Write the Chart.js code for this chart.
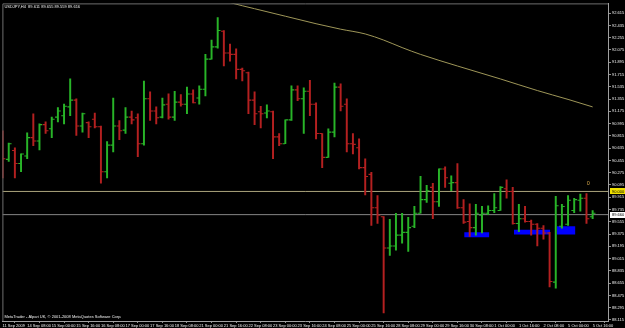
<!DOCTYPE html>
<html>
<head>
<meta charset="utf-8">
<script src="https://cdn.jsdelivr.net/npm/chart.js@4.4.0/dist/chart.umd.min.js"></script>
<style>
  html, body { margin: 0; padding: 0; background: #000; }
  #wrap { width: 625px; height: 328px; position: relative; }
</style>
</head>
<body>
<div id="wrap"><canvas id="chart"></canvas></div>
<script>
// USDJPY H4 bars, 11 Sep 16:00 .. 5 Oct 16:00 (one label every 4 bars)
var timeLabels = ['11 Sep 2009', '14 Sep 08:00', '15 Sep 00:00', '15 Sep 16:00', '16 Sep 08:00',
  '17 Sep 00:00', '17 Sep 16:00', '18 Sep 08:00', '21 Sep 00:00', '21 Sep 16:00', '22 Sep 08:00',
  '23 Sep 00:00', '23 Sep 16:00', '24 Sep 08:00', '25 Sep 00:00', '25 Sep 16:00', '28 Sep 08:00',
  '29 Sep 00:00', '29 Sep 16:00', '30 Sep 08:00', '1 Oct 00:00', '1 Oct 16:00', '2 Oct 08:00',
  '5 Oct 00:00', '5 Oct 16:00'];

var openPrices = [
  90.74, 90.47, 90.60, 90.41, 90.52, 90.79, 90.74, 90.98, 90.92, 91.09,
  91.11, 91.24, 91.34, 90.96, 91.01, 91.06, 90.95, 90.29, 90.68, 90.96,
  90.90, 91.09, 91.08, 90.70, 91.36, 91.18, 91.09, 91.28, 91.09, 91.31,
  91.28, 91.43, 91.37, 91.50, 91.94, 92.12, 92.35, 92.03, 92.01, 91.79,
  91.74, 91.34, 91.17, 91.15, 91.17, 90.80, 90.70, 91.05, 91.49, 91.36,
  91.47, 91.28, 90.85, 90.50, 90.87, 91.53, 91.28, 90.70, 90.64, 90.35,
  90.25, 89.76, 89.63, 89.17, 89.20, 89.36, 89.40, 89.49, 89.68, 89.88,
  90.06, 89.85, 90.33, 90.12, 90.13, 89.76, 89.56, 89.47, 89.65, 89.68,
  89.72, 89.72, 90.04, 90.00, 89.53, 89.60, 89.56, 89.52, 89.46, 89.39,
  88.67, 89.49, 89.52, 89.72, 89.87, 89.90, 89.63];
var highPrices = [
  90.89, 90.71, 90.64, 90.55, 90.86, 91.14, 90.99, 91.02, 91.09, 91.23,
  91.28, 91.65, 91.36, 91.15, 91.02, 91.15, 90.96, 90.73, 91.37, 91.04,
  91.23, 91.18, 91.14, 91.62, 91.46, 91.24, 91.37, 91.43, 91.47, 91.42,
  91.53, 91.49, 91.55, 92.01, 92.22, 92.55, 92.36, 92.16, 92.09, 91.81,
  91.75, 91.46, 91.25, 91.27, 91.18, 90.85, 91.05, 91.55, 91.55, 91.52,
  91.63, 91.30, 90.85, 90.92, 91.59, 91.58, 91.36, 90.85, 90.77, 90.48,
  90.28, 89.94, 89.63, 89.59, 89.68, 89.68, 89.62, 89.78, 90.22, 90.09,
  90.12, 90.33, 90.36, 90.23, 90.41, 89.88, 89.82, 89.81, 89.78, 89.79,
  89.97, 90.07, 90.17, 90.06, 89.81, 89.78, 89.58, 89.53, 89.50, 89.40,
  89.93, 89.81, 89.94, 89.90, 89.96, 89.97, 89.72];
var lowPrices = [
  90.20, 90.44, 90.20, 90.29, 90.48, 90.67, 90.61, 90.85, 90.79, 91.02,
  90.99, 91.11, 90.82, 90.87, 90.79, 90.93, 90.12, 90.20, 90.58, 90.76,
  90.85, 90.99, 90.51, 90.68, 91.04, 90.99, 91.08, 91.06, 91.04, 91.25,
  91.14, 91.30, 91.28, 91.40, 91.94, 92.10, 91.84, 91.91, 91.65, 91.62,
  91.14, 90.98, 90.93, 91.08, 90.48, 90.67, 90.70, 91.04, 91.33, 90.85,
  91.11, 90.77, 90.35, 90.50, 90.80, 91.18, 90.58, 90.55, 90.33, 89.95,
  89.50, 89.53, 88.22, 89.06, 89.14, 89.24, 89.12, 89.47, 89.68, 89.84,
  89.60, 89.78, 90.06, 90.01, 89.75, 89.53, 89.34, 89.36, 89.39, 89.66,
  89.69, 89.72, 89.90, 89.52, 89.41, 89.55, 89.36, 89.20, 89.30, 88.60,
  88.58, 89.46, 89.50, 89.69, 89.71, 89.53, 89.60];
var closePrices = [
  90.48, 90.70, 90.41, 90.55, 90.79, 90.74, 90.98, 90.89, 91.06, 91.18,
  91.25, 91.34, 90.96, 91.14, 90.95, 90.95, 90.29, 90.68, 90.96, 90.89,
  91.09, 91.05, 90.70, 91.36, 91.18, 91.08, 91.27, 91.09, 91.31, 91.28,
  91.43, 91.30, 91.50, 91.94, 92.12, 92.36, 92.03, 92.01, 91.79, 91.77,
  91.34, 91.14, 91.14, 91.18, 90.80, 90.70, 91.05, 91.49, 91.36, 91.47,
  91.28, 90.85, 90.50, 90.87, 91.53, 91.25, 90.70, 90.69, 90.35, 90.22,
  89.76, 89.65, 89.17, 89.20, 89.36, 89.40, 89.47, 89.68, 89.88, 90.01,
  89.85, 90.33, 90.20, 90.13, 89.76, 89.55, 89.47, 89.68, 89.68, 89.72,
  89.76, 90.06, 90.00, 89.53, 89.60, 89.56, 89.52, 89.46, 89.39, 88.68,
  89.79, 89.78, 89.87, 89.88, 89.90, 89.60, 89.68];

// slow moving average, read at some bars (it leaves the top of the window on the left)
var maIndex = [33, 37, 41, 46, 51, 55, 59, 62, 65, 68, 74, 81, 87, 92, 96];
var maValues = [92.88, 92.77, 92.68, 92.57, 92.46, 92.38, 92.31, 92.22, 92.11, 92.01, 91.84, 91.65, 91.48, 91.35, 91.24];

var yTickValues = [92.615, 92.435, 92.255, 92.075, 91.895, 91.715, 91.535, 91.355, 91.175,
  90.995, 90.815, 90.635, 90.455, 90.275, 90.095, 89.915, 89.735, 89.555, 89.375, 89.195,
  89.015, 88.835, 88.655, 88.475, 88.295, 88.115];

var levelPrice = 90.000;
var lastPrice = 89.660;

// blue rectangles (bar index from/to, price top/bottom)
var boxStart = [75.1, 83.2, 90.2];
var boxEnd = [79.2, 89.1, 93.2];
var boxTop = [89.40, 89.44, 89.49];
var boxBottom = [89.33, 89.37, 89.37];

var markerText = '0';
var markerIndex = 95.3;
var markerPrice = 90.11;

var headerText = 'USDJPY,H4  89.611 89.655 89.559 89.616';
var footerText = 'MetaTrader - Alpari UK, \u00a9 2001-2008 MetaQuotes Software Corp.';

var X_MIN = -0.03, X_MAX = 98.5;
var Y_MIN = 88.10, Y_MAX = 92.758;
var UP = '#28b428';
var DOWN = '#b42020';
var TEXT = '#f0f0f0';

Chart.defaults.font.family = '"Liberation Sans", Arial, sans-serif';
Chart.defaults.font.size = 4;

var idx = openPrices.map(function(p, i) { return i; });
var barColors = idx.map(function(i) {
  return closePrices[i] >= openPrices[i] ? UP : DOWN;
});

var datasets = [];

for (var k = 0; k < boxStart.length; k++) {
  datasets.push({
    type: 'line',
    data: [{x: boxStart[k], y: boxTop[k]}, {x: boxEnd[k], y: boxTop[k]}],
    borderColor: 'rgba(0,0,0,0)', borderWidth: 1, pointRadius: 0, fill: false, order: 10
  });
  datasets.push({
    type: 'line',
    data: [{x: boxStart[k], y: boxBottom[k]}, {x: boxEnd[k], y: boxBottom[k]}],
    borderColor: 'rgba(0,0,0,0)', borderWidth: 1, pointRadius: 0,
    fill: '-1', backgroundColor: '#0000ff', order: 10
  });
}

datasets.push({
  type: 'line',
  data: [{x: X_MIN, y: levelPrice}, {x: X_MAX, y: levelPrice}],
  borderColor: '#aaa47c', borderWidth: 1, pointRadius: 0, order: 6
});
datasets.push({
  type: 'line',
  data: [{x: X_MIN, y: lastPrice}, {x: X_MAX, y: lastPrice}],
  borderColor: '#858585', borderWidth: 1, pointRadius: 0, order: 6
});
datasets.push({
  type: 'line',
  data: maIndex.map(function(v, j) { return {x: v, y: maValues[j]}; }),
  borderColor: '#9e9658', borderWidth: 1, pointRadius: 0,
  cubicInterpolationMode: 'monotone', order: 5
});
datasets.push({
  type: 'bar',
  data: idx.map(function(i) { return {x: i, y: [lowPrices[i], highPrices[i]]}; }),
  backgroundColor: barColors,
  barThickness: 1.3,
  order: 2
});
datasets.push({
  type: 'scatter',
  data: idx.map(function(i) { return {x: i - 0.25, y: openPrices[i]}; }),
  pointStyle: 'line', pointRadius: 1.3, pointHoverRadius: 1.3,
  pointBorderWidth: 1.1, pointBorderColor: barColors, pointBackgroundColor: barColors,
  order: 1
});
datasets.push({
  type: 'scatter',
  data: idx.map(function(i) { return {x: i + 0.25, y: closePrices[i]}; }),
  pointStyle: 'line', pointRadius: 1.3, pointHoverRadius: 1.3,
  pointBorderWidth: 1.1, pointBorderColor: barColors, pointBackgroundColor: barColors,
  order: 1
});

function drawPriceBox(ctx, yScale, price, bg) {
  var yPix = yScale.getPixelForValue(price);
  ctx.fillStyle = bg;
  ctx.fillRect(yScale.left + 2, Math.round(yPix) - 3, 15, 6);
  ctx.fillStyle = '#000';
  ctx.textAlign = 'left';
  ctx.textBaseline = 'middle';
  ctx.fillText(price.toFixed(3), yScale.left + 4, yPix);
}

var terminalPlugin = {
  id: 'terminal',
  beforeDraw: function(chart) {
    var ctx = chart.ctx;
    ctx.save();
    ctx.fillStyle = '#000';
    ctx.fillRect(0, 0, chart.width, chart.height);
    ctx.restore();
  },
  afterDraw: function(chart) {
    var ctx = chart.ctx;
    var a = chart.chartArea;
    var xs = chart.scales.x;
    var ys = chart.scales.y;
    ctx.save();
    ctx.strokeStyle = '#6e6e6e';
    ctx.lineWidth = 1;
    ctx.beginPath();
    ctx.moveTo(a.left + 0.5, a.bottom);
    ctx.lineTo(a.left + 0.5, a.top + 0.5);
    ctx.lineTo(a.right, a.top + 0.5);
    ctx.stroke();

    ctx.font = '4px "Liberation Sans", Arial, sans-serif';
    ctx.fillStyle = TEXT;
    ctx.textAlign = 'left';
    ctx.textBaseline = 'middle';
    ctx.fillText(headerText, a.left + 2, a.top + 3);
    ctx.fillText(footerText, a.left + 2, a.bottom - 4);

    drawPriceBox(ctx, ys, levelPrice, '#f0e000');
    drawPriceBox(ctx, ys, lastPrice, '#ffffff');

    ctx.font = '5.5px "Liberation Sans", Arial, sans-serif';
    ctx.fillStyle = '#d2a448';
    ctx.textAlign = 'center';
    ctx.fillText(markerText, xs.getPixelForValue(markerIndex), ys.getPixelForValue(markerPrice));
    ctx.restore();
  }
};

var chart = new Chart(document.getElementById('chart'), {
  type: 'scatter',
  data: { datasets: datasets },
  plugins: [terminalPlugin],
  options: {
    responsive: true,
    maintainAspectRatio: false,
    animation: false,
    devicePixelRatio: 1,
    layout: { padding: { top: 2, left: 1, right: 0, bottom: 0 } },
    plugins: {
      legend: { display: false },
      tooltip: { enabled: false }
    },
    scales: {
      x: {
        type: 'linear',
        position: 'bottom',
        min: X_MIN,
        max: X_MAX,
        offset: false,
        afterBuildTicks: function(scale) {
          scale.ticks = timeLabels.map(function(t, n) { return {value: n * 4}; });
        },
        afterFit: function(scale) { scale.height = 7; },
        ticks: {
          autoSkip: false,
          maxRotation: 0,
          align: 'start',
          padding: 0,
          color: TEXT,
          font: { size: 4 },
          callback: function(v) { return timeLabels[Math.round(v / 4)]; }
        },
        grid: { drawOnChartArea: false, drawTicks: true, tickLength: 2, color: '#909090' },
        border: { color: '#a0a0a0' }
      },
      y: {
        type: 'linear',
        position: 'right',
        min: Y_MIN,
        max: Y_MAX,
        afterBuildTicks: function(scale) {
          scale.ticks = yTickValues.map(function(v) { return {value: v}; });
        },
        afterFit: function(scale) { scale.width = 17; },
        ticks: {
          padding: 1,
          color: TEXT,
          font: { size: 4 },
          callback: function(v) { return v.toFixed(3); }
        },
        grid: { drawOnChartArea: false, drawTicks: true, tickLength: 3, color: '#909090' },
        border: { color: '#a0a0a0' }
      }
    }
  }
});
</script>
</body>
</html>
